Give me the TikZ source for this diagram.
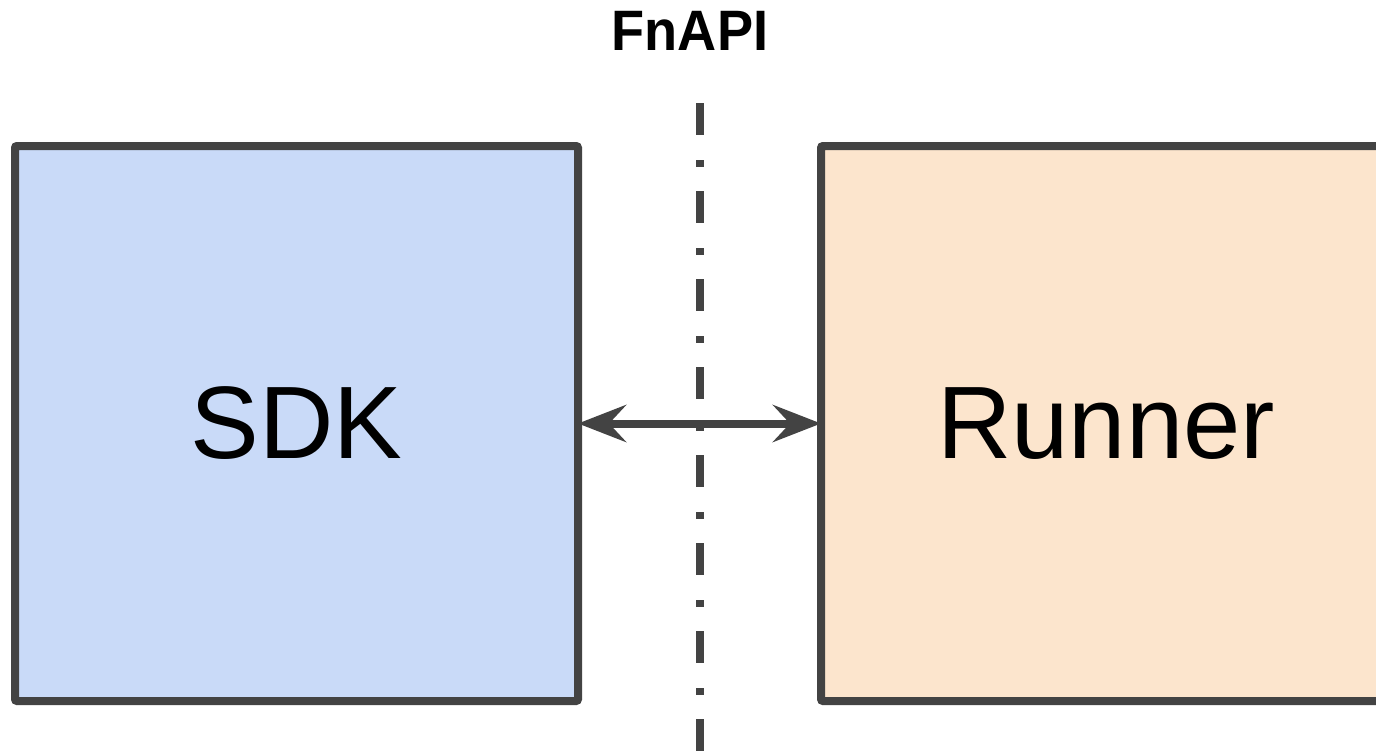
\documentclass[tikz,border=0pt]{standalone}
\usepackage{fontspec}
\setmainfont{Liberation Sans}
\usetikzlibrary{arrows.meta}
\definecolor{edgegray}{HTML}{434343}
\definecolor{sdkblue}{HTML}{C9DAF8}
\definecolor{runorange}{HTML}{FCE5CD}
\tikzset{
  boxnode/.style={draw=edgegray, line width=8pt, rounded corners=2pt, inner sep=0pt, outer sep=0pt,
    font=\fontsize{103}{110}\selectfont, text=black},
  linkarrow/.style={draw=edgegray, line width=8pt,
    {Stealth[length=48pt,width=37pt,inset=17pt]}-{Stealth[length=48pt,width=37pt,inset=17pt]}},
  apiline/.style={draw=edgegray, line width=8pt, line cap=butt,
    dash pattern=on 32pt off 25pt on 7pt off 24pt},
  apilabel/.style={font=\bfseries\fontsize{57}{60}\selectfont, inner sep=0pt, anchor=base}
}
\begin{document}
\begin{tikzpicture}[x=1pt,y=-1pt]
\useasboundingbox (0,0) rectangle (1376,752);
\clip (0,0) rectangle (1376,752);
\fill[white] (0,0) rectangle (1376,752);
\node[boxnode, fill=sdkblue, minimum width=563pt, minimum height=555pt] (sdk) at (296.5,423.5) {SDK};
\node[boxnode, fill=runorange, minimum width=570pt, minimum height=555pt] (runner) at (1106,423.5) {Runner};
\coordinate (ftop) at (700,103);
\coordinate (fbot) at (700,760);
\draw[apiline] (ftop) -- (fbot);
\node[apilabel] (fnapi) at (690,51) {\scalebox{0.95}[1]{FnAPI}};
\draw[linkarrow] (sdk.east) -- (runner.west);
\end{tikzpicture}
\end{document}
